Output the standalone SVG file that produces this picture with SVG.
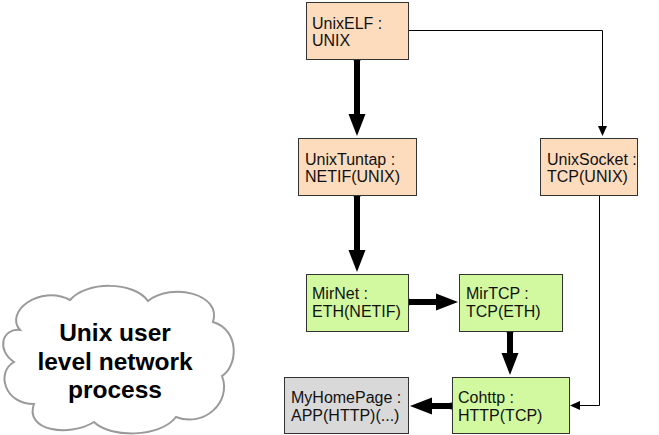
<svg xmlns="http://www.w3.org/2000/svg" width="659" height="435" viewBox="0 0 659 435">
<style>
.box{stroke:#333;stroke-width:1}
.peach{fill:#fddcbd}
.green{fill:#d2f99f}
.grey{fill:#d9d9d9}
text{font-family:"Liberation Sans",Arial,sans-serif;font-size:16px;fill:#111}
.cloudtxt{font-weight:bold;font-size:24.5px;text-anchor:middle;fill:#000}
.thick{stroke:#000;stroke-width:6;fill:none;marker-start:url(#dot);marker-end:url(#bighead)}
.thin{stroke:#000;stroke-width:1;fill:none;marker-end:url(#smallhead)}
</style>
<defs>
<marker id="bighead" markerUnits="userSpaceOnUse" markerWidth="24" markerHeight="20" viewBox="0 -10 24 20" refX="0" refY="0" orient="auto">
<path d="M0,-8.5 L22,0 L0,8.5 Z" fill="#000"/>
</marker>
<marker id="dot" markerUnits="userSpaceOnUse" markerWidth="10" markerHeight="10" viewBox="-5 -5 10 10" refX="0" refY="0" orient="auto">
<circle r="3.6" fill="#000"/>
</marker>
<marker id="smallhead" markerUnits="userSpaceOnUse" markerWidth="12" markerHeight="12" viewBox="0 -6 12 12" refX="0" refY="0" orient="auto">
<path d="M0,-4.5 L10,0 L0,4.5 Z" fill="#000"/>
</marker>
</defs>

<g id="cloud">
<path d="M20,330 C4,312 40,284 70,300 C86,281 134,281 148,301 C172,282 222,294 213,322 C240,330 238,366 222,376 C232,402 204,428 176,417 C160,438 110,438 94,422 C68,438 24,430 34,404 C4,404 -4,372 14,362 C-4,350 2,328 20,330 Z" fill="#fff" stroke="#9a9a9a" stroke-width="2"/>
<text class="cloudtxt" x="115" y="341">Unix user</text>
<text class="cloudtxt" x="115" y="370">level network</text>
<text class="cloudtxt" x="115" y="398">process</text>
</g>

<g id="connectors">
<path class="thick" d="M357,59 L357,114"/>
<path class="thick" d="M357,195 L357,250"/>
<path class="thick" d="M408,302 L436,302"/>
<path class="thick" d="M510,331 L510,353"/>
<path class="thick" d="M452,406 L432,406"/>
<path class="thin" d="M408,30.5 L602.5,30.5 L602.5,126"/>
<path class="thin" d="M599.5,195 L599.5,405.5 L580,405.5"/>
</g>

<g id="UnixELF">
<rect class="box peach" x="306.5" y="2.5" width="102" height="57"/>
<text x="312" y="29">UnixELF :</text>
<text x="312" y="46">UNIX</text>
</g>
<g id="UnixTuntap">
<rect class="box peach" x="298.5" y="138.5" width="118" height="57"/>
<text x="305" y="165">UnixTuntap :</text>
<text x="305" y="182">NETIF(UNIX)</text>
</g>
<g id="UnixSocket">
<rect class="box peach" x="540.5" y="138.5" width="97" height="57"/>
<text x="547" y="165">UnixSocket :</text>
<text x="547" y="182">TCP(UNIX)</text>
</g>
<g id="MirNet">
<rect class="box green" x="306.5" y="274.5" width="102" height="57"/>
<text x="312" y="299">MirNet :</text>
<text x="312" y="317">ETH(NETIF)</text>
</g>
<g id="MirTCP">
<rect class="box green" x="459.5" y="274.5" width="103" height="57"/>
<text x="466" y="299">MirTCP :</text>
<text x="466" y="317">TCP(ETH)</text>
</g>
<g id="Cohttp">
<rect class="box green" x="452.5" y="377.5" width="117" height="56"/>
<text x="458" y="403">Cohttp :</text>
<text x="458" y="421">HTTP(TCP)</text>
</g>
<g id="MyHomePage">
<rect class="box grey" x="284.5" y="377.5" width="124" height="56"/>
<text x="291" y="403">MyHomePage :</text>
<text x="291" y="421">APP(HTTP)(...)</text>
</g>
</svg>
